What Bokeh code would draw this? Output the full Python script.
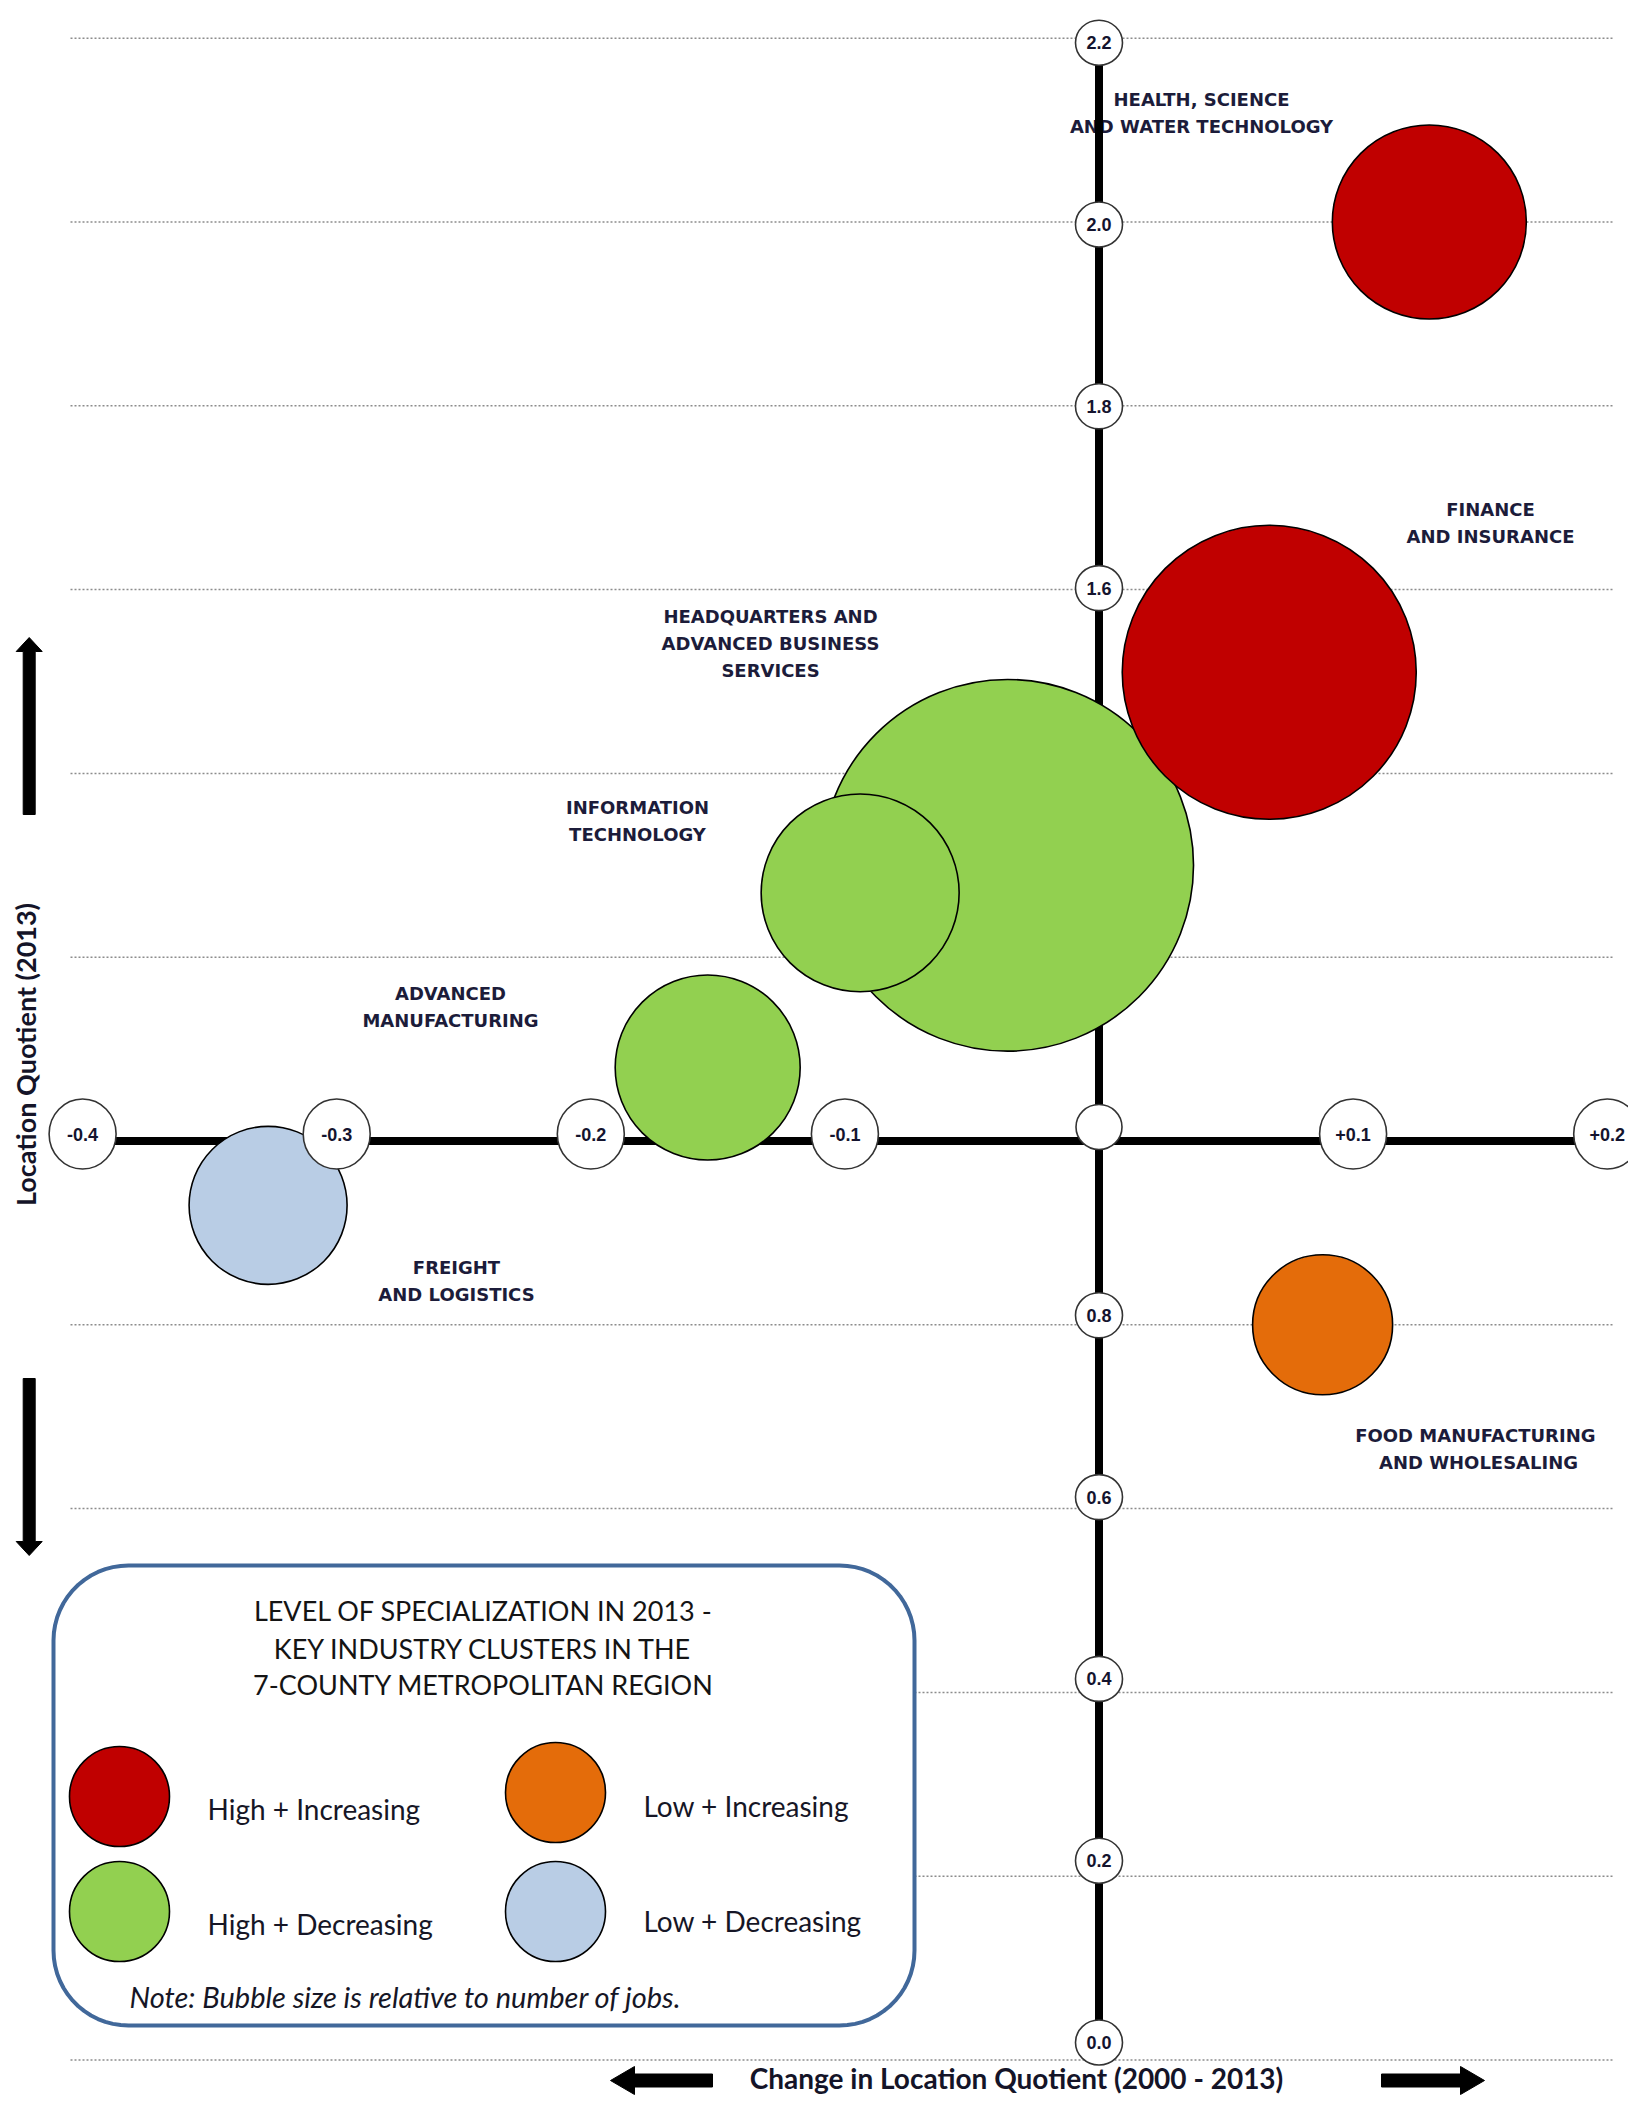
import numpy as np
from bokeh.plotting import figure
from bokeh.models import Range1d
from bokeh.embed import file_html
from bokeh.resources import INLINE
from bokeh.core.properties import value

# ---------------- data ----------------
clusters = [
    "Headquarters and Advanced Business Services",
    "Information Technology",
    "Finance and Insurance",
    "Health, Science and Water Technology",
    "Advanced Manufacturing",
    "Freight and Logistics",
    "Food Manufacturing and Wholesaling",
]
lq_change = [-0.036, -0.094, 0.067, 0.130, -0.154, -0.327, 0.088]   # change in LQ 2000-2013
lq_2013 = [1.30, 1.27, 1.51, 2.00, 1.08, 0.93, 0.80]                # LQ 2013
bubble_size = [372, 198, 294, 194, 185, 158, 140]                   # relative to number of jobs
quadrant = ["High + Decreasing", "High + Decreasing", "High + Increasing",
            "High + Increasing", "High + Decreasing", "Low + Decreasing",
            "Low + Increasing"]
cluster_labels = [
    "HEADQUARTERS AND\nADVANCED BUSINESS\nSERVICES",
    "INFORMATION\nTECHNOLOGY",
    "FINANCE\nAND INSURANCE",
    "HEALTH, SCIENCE\nAND WATER TECHNOLOGY",
    "ADVANCED\nMANUFACTURING",
    "FREIGHT\nAND LOGISTICS",
    "FOOD  MANUFACTURING\nAND WHOLESALING",
]

x_ticks = [-0.4, -0.3, -0.2, -0.1, 0.1, 0.2]
x_tick_labels = ["-0.4", "-0.3", "-0.2", "-0.1", "+0.1", "+0.2"]
y_ticks = [0.0, 0.2, 0.4, 0.6, 0.8, 1.2, 1.4, 1.6, 1.8, 2.0, 2.2]
y_tick_labels = ["0.0", "0.2", "0.4", "0.6", "0.8", "1.2", "1.4", "1.6", "1.8", "2.0", "2.2"]
grid_levels = [0.0, 0.2, 0.4, 0.6, 0.8, 1.0, 1.2, 1.4, 1.6, 1.8, 2.0, 2.2]
lq_baseline = 1.0
change_baseline = 0.0

legend_categories = ["High + Increasing", "Low + Increasing", "High + Decreasing", "Low + Decreasing"]
legend_title = ["LEVEL OF SPECIALIZATION IN 2013 -", "KEY INDUSTRY CLUSTERS IN THE",
                "7-COUNTY METROPOLITAN REGION"]
legend_note = "Note: Bubble size is relative to number of jobs."
x_title = "Change in Location Quotient (2000 - 2013)"
y_title = "Location Quotient (2013)"

# ---------------- styles / layout ----------------
COLORS = {"High + Increasing": "#C00000", "Low + Increasing": "#E46C0A",
          "High + Decreasing": "#92D050", "Low + Decreasing": "#B9CDE5"}
W, H = 1628, 2095
X0_PX, PX_PER_X = 1098.5, 2541.0
Y0_PX, PX_PER_Y = 2059.5, 919.0


def dx(px):
    return (px - X0_PX) / PX_PER_X


def dy(py):
    return (Y0_PX - py) / PX_PER_Y


def tick_py(v):
    # the round tick badges sit on a slightly tighter scale than the gridlines
    return 2042.0 - 909.0 * v


LABEL_ANCHOR_PX = {
    "Headquarters and Advanced Business Services": (770, 643),
    "Information Technology": (637, 820),
    "Finance and Insurance": (1490, 522),
    "Health, Science and Water Technology": (1201, 112.7),
    "Advanced Manufacturing": (450, 1006.5),
    "Freight and Logistics": (456, 1280.5),
    "Food Manufacturing and Wholesaling": (1478, 1448),
}
LABEL_LINE_PX = 27
LEGEND_ITEM_PX = {"High + Increasing": ((119, 1796), (207, 1808)),
                  "Low + Increasing": ((555, 1792), (643, 1805)),
                  "High + Decreasing": ((119, 1911), (207, 1923)),
                  "Low + Decreasing": ((555, 1911), (643, 1920))}

p = figure(width=W, height=H, x_range=Range1d(dx(0), dx(W)),
           y_range=Range1d(dy(H), dy(0)),
           x_axis_type=None, y_axis_type=None, toolbar_location=None,
           output_backend="svg", min_border=0, outline_line_color=None,
           background_fill_color="white", border_fill_color="white")
p.grid.visible = False

# gridlines
gx0, gx1 = dx(70), dx(1612)
p.multi_line(xs=[[gx0, gx1] for _ in grid_levels], ys=[[g, g] for g in grid_levels],
             line_color="#8c8c8c", line_width=1.5, line_dash="2 2")

# cluster labels
lab_x, lab_y, lab_t = [], [], []
for name, text in zip(clusters, cluster_labels):
    ax, ay = LABEL_ANCHOR_PX[name]
    lines = text.split("\n")
    n = len(lines)
    for i, line in enumerate(lines):
        lab_x.append(dx(ax))
        lab_y.append(dy(ay + (i - (n - 1) / 2) * LABEL_LINE_PX))
        lab_t.append(line)
p.text(x=lab_x, y=lab_y, text=lab_t, text_align="center", text_baseline="middle",
       text_font=value("DejaVu Sans"), text_font_style="bold", text_font_size="18px",
       text_color="#1c1c3a")

# axis lines
p.segment(x0=[change_baseline, x_ticks[0]], y0=[y_ticks[0], lq_baseline],
          x1=[change_baseline, x_ticks[-1]], y1=[y_ticks[-1], lq_baseline],
          line_color="black", line_width=8)

# y tick badges
yt_y = [dy(tick_py(v)) for v in y_ticks]
p.ellipse(x=[change_baseline] * len(y_ticks), y=yt_y, width=47, height=45,
          width_units="screen", height_units="screen",
          fill_color="white", line_color="#333333", line_width=1.6)
p.text(x=[change_baseline] * len(y_ticks), y=yt_y, text=y_tick_labels,
       text_align="center", text_baseline="middle", text_font=value("Liberation Sans"),
       text_font_style="bold", text_font_size="18px", text_color="#14142e")
# origin badge
p.ellipse(x=[change_baseline], y=[lq_baseline + 14 / PX_PER_Y], width=46, height=45,
          width_units="screen", height_units="screen",
          fill_color="white", line_color="#333333", line_width=1.6)

# bubbles
p.scatter(x=lq_change, y=lq_2013, size=bubble_size, marker="circle",
          fill_color=[COLORS[q] for q in quadrant], line_color="black", line_width=1.6)

# x tick badges (drawn over bubbles)
xt_y = [lq_baseline + 7 / PX_PER_Y] * len(x_ticks)
p.ellipse(x=x_ticks, y=xt_y, width=67, height=70, width_units="screen", height_units="screen",
          fill_color="white", line_color="#333333", line_width=1.6)
p.text(x=x_ticks, y=xt_y, text=x_tick_labels, text_align="center", text_baseline="middle",
       text_font=value("Liberation Sans"), text_font_style="bold", text_font_size="18px",
       text_color="#14142e")


# legend box (rounded rectangle)
def rounded_rect(l, t, r, b, rad, n=16):
    pts = []
    corners = [(r - rad, t + rad, -90, 0), (r - rad, b - rad, 0, 90),
               (l + rad, b - rad, 90, 180), (l + rad, t + rad, 180, 270)]
    for cx, cy, a0, a1 in corners:
        for a in np.linspace(np.radians(a0), np.radians(a1), n):
            pts.append((cx + rad * np.cos(a), cy + rad * np.sin(a)))
    return [dx(q[0]) for q in pts], [dy(q[1]) for q in pts]


bx, by = rounded_rect(53, 1565, 914, 2025, 75)
p.patch(x=bx, y=by, fill_color="white", line_color="#41689A", line_width=4)

p.text(x=[dx(483)] * 3, y=[dy(1610), dy(1648), dy(1684)], text=legend_title,
       text_align="center", text_baseline="middle", text_font=value("Lato"),
       text_font_size="27px", text_color="#141414")

p.scatter(x=[dx(LEGEND_ITEM_PX[c][0][0]) for c in legend_categories],
          y=[dy(LEGEND_ITEM_PX[c][0][1]) for c in legend_categories],
          size=100, marker="circle", fill_color=[COLORS[c] for c in legend_categories],
          line_color="black", line_width=1.6)
p.text(x=[dx(LEGEND_ITEM_PX[c][1][0]) for c in legend_categories],
       y=[dy(LEGEND_ITEM_PX[c][1][1]) for c in legend_categories],
       text=legend_categories, text_align="left", text_baseline="middle",
       text_font=value("Lato"), text_font_size="28px", text_color="#161626")
p.text(x=[dx(129)], y=[dy(1996)], text=[legend_note], text_align="left",
       text_baseline="middle", text_font=value("Lato"), text_font_style="italic",
       text_font_size="29px", text_color="#161626")

# axis titles
p.text(x=[dx(1016)], y=[dy(2077)], text=[x_title], text_align="center",
       text_baseline="middle", text_font=value("Lato"), text_font_style="bold",
       text_font_size="28px", text_color="#141428")
p.text(x=[dx(25)], y=[dy(1054)], text=[y_title], angle=np.pi / 2, text_align="center",
       text_baseline="middle", text_font=value("Lato"), text_font_style="bold",
       text_font_size="27px", text_color="#141428")


# arrows
def arrow_poly(tail, tip, sw, hw, hl):
    t = np.array(tail, float)
    e = np.array(tip, float)
    u = (e - t) / np.linalg.norm(e - t)
    nrm = np.array([-u[1], u[0]])
    base = e - u * hl
    pts = [t + nrm * sw / 2, base + nrm * sw / 2, base + nrm * hw / 2, e,
           base - nrm * hw / 2, base - nrm * sw / 2, t - nrm * sw / 2]
    return [dx(q[0]) for q in pts], [dy(q[1]) for q in pts]


arrows = [arrow_poly((28.7, 814), (28.7, 637), 12, 26, 14),
          arrow_poly((28.7, 1378), (28.7, 1555), 12, 26, 14),
          arrow_poly((712, 2080), (610, 2080), 13, 28, 24),
          arrow_poly((1381, 2080), (1484, 2080), 13, 28, 24)]
p.patches(xs=[a[0] for a in arrows], ys=[a[1] for a in arrows],
          fill_color="black", line_color="black", line_width=1)

open("out.html", "w").write(file_html(p, INLINE))
